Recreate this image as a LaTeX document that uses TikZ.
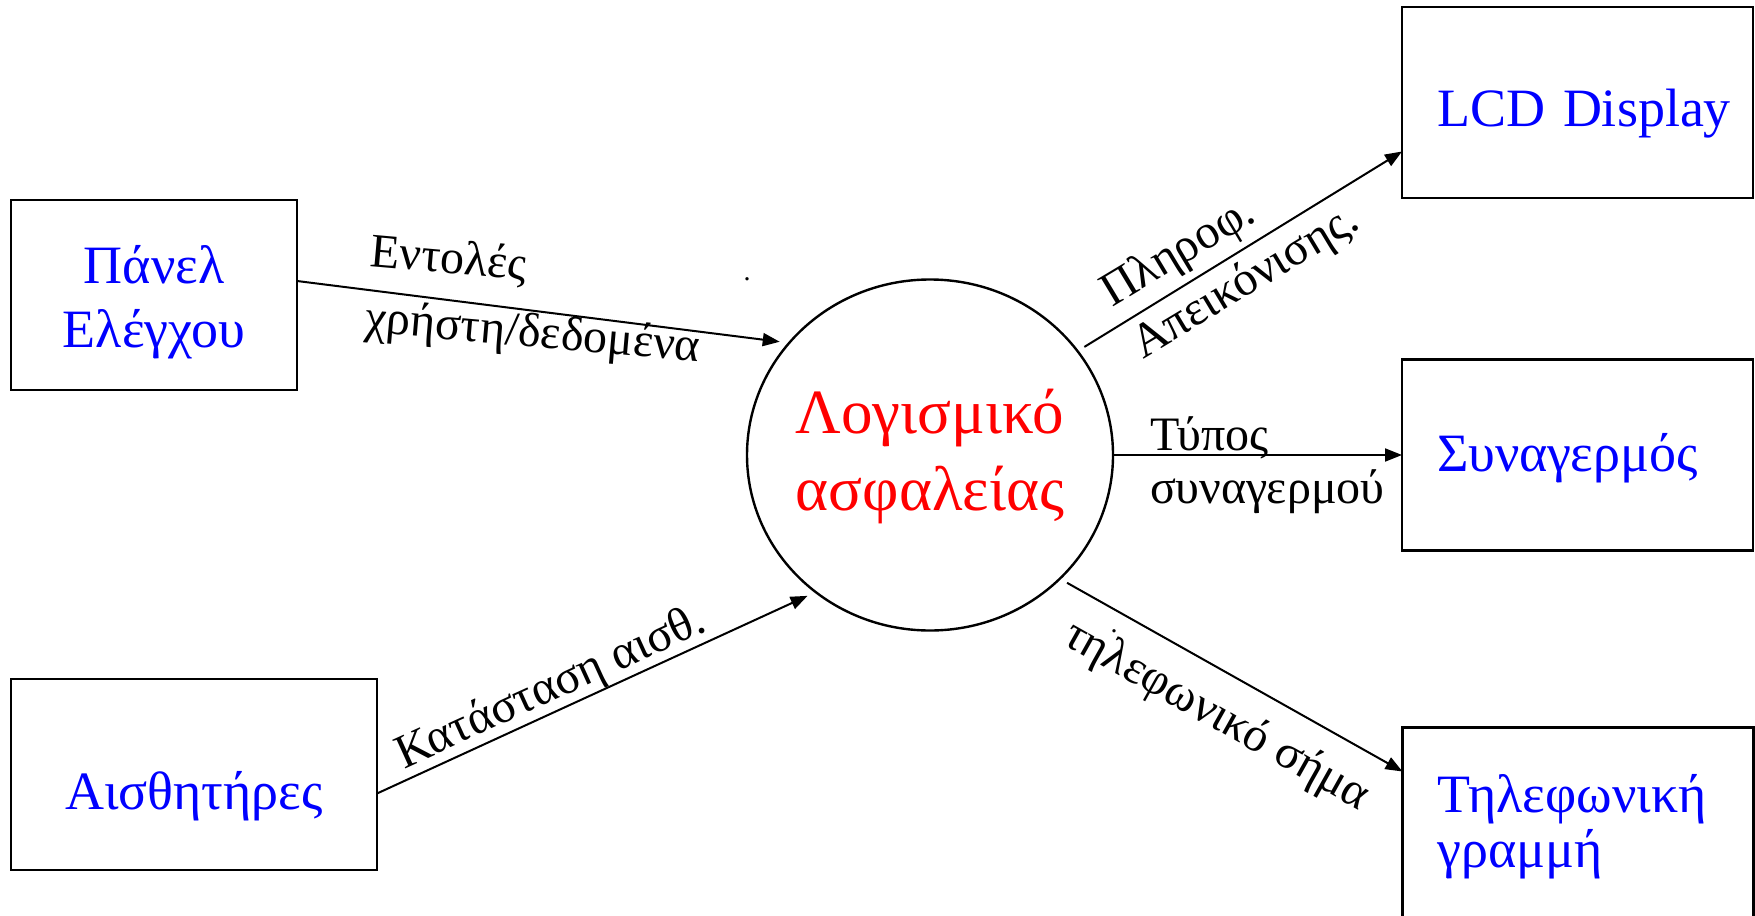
\documentclass[tikz,border=0pt]{standalone}
\usepackage{fontspec}
\setmainfont{Liberation Serif}
\usetikzlibrary{arrows.meta,shapes.geometric,calc}
\definecolor{boxblue}{RGB}{0,0,255}
\definecolor{softred}{RGB}{255,0,0}
\begin{document}
\begin{tikzpicture}[x=1pt,y=-1pt,
  box/.style={draw=black, line width=2.6pt, rectangle, inner sep=0pt, outer sep=0pt, text=boxblue, font=\fontsize{54}{64}\selectfont},
  rbox/.style={box, minimum width=351pt, minimum height=191pt, inner xsep=35pt, text width=281pt, align=left},
  flow/.style={line width=2pt, -{Triangle[length=17pt,width=13pt]}},
  lbl/.style={inner sep=0pt, outer sep=0pt, text=black, font=\fontsize{48}{60}\selectfont},
]
\path[use as bounding box, fill=white] (0,0) rectangle (1755,915);

% boxes
\node[box, minimum width=286pt, minimum height=190pt, align=center, text height=116pt, text depth=12pt] (panel) at (154,295) {Πάνελ\\Ελέγχου};
\node[box, minimum width=366pt, minimum height=191pt, text height=81pt, text depth=12pt] (sens) at (194,774.5) {Αισθητήρες};
\node[rbox, text height=60pt, text depth=12pt] (lcd) at (1577.5,102.5) {\mbox{LCD Display}};
\node[rbox, text height=44pt, text depth=12pt] (syn) at (1577.5,455) {Συναγερμός};
\node[rbox, font=\fontsize{54}{55}\selectfont, text height=40pt, text depth=62pt] (tel) at (1578,823) {Τηλεφωνική\\γραμμή};

% process
\node[draw, ellipse, line width=2.4pt, minimum width=366pt, minimum height=351pt, inner sep=0pt, outer sep=8pt, text=softred, font=\fontsize{63}{77}\selectfont, align=center, text height=130pt, text depth=20pt] (soft) at (930,455) {\makebox[0pt]{Λογισμικό}\\\makebox[0pt]{ασφαλείας}};

% flows
\draw[flow] ($(panel.east)+(0,-14)$) -- (soft.143.7);
\draw[flow] ($(sens.east)+(0,19)$) -- (soft.229.3);
\draw[flow] (soft.35.9) -- ($(lcd.west)+(0,49)$);
\draw[flow, shorten <=-7pt] (soft.0) -- (syn.west);
\draw[flow] (soft.-43.5) -- ($(tel.north west)+(0,44)$);

% labels
\node[lbl, rotate=-5, anchor=base west, align=left, font=\fontsize{48}{66}\selectfont] (lab1) at (364,332) {Εντολές\\χρήστη/δεδομένα};
\node[lbl, rotate=24.5, anchor=base west] (lab2) at (404,769) {Κατάσταση αισθ.};
\node[lbl, rotate=31, anchor=base west, align=left, font=\fontsize{48}{60}\selectfont] (lab3) at (1143,359) {Πληροφ.\\Απεικόνισης.};
\node[lbl, anchor=base west, align=left, font=\fontsize{48}{53}\selectfont] (lab4) at (1150,503) {Τύπος\\συναγερμού};
\node[lbl, rotate=-29.3, anchor=base west] (lab5) at (1061,643) {τηλεφωνικό σήμα};

% stray dots
\node[lbl, font=\fontsize{28}{28}\selectfont] (dotA) at (747,279) {.};
\node[lbl, font=\fontsize{28}{28}\selectfont] (dotB) at (1114,631) {.};
\end{tikzpicture}
\end{document}
